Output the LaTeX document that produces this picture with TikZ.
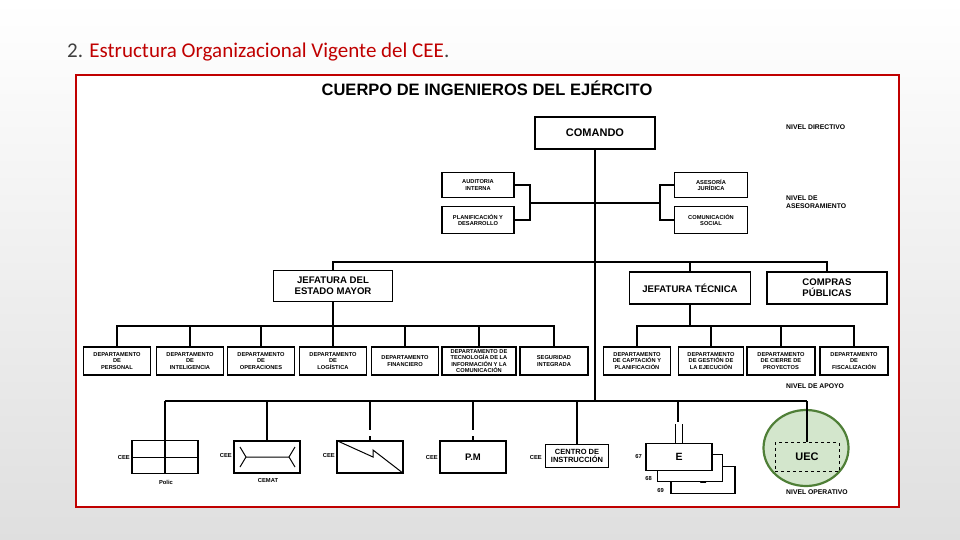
\documentclass[tikz,border=0pt]{standalone}
\usepackage{fontspec}
\usetikzlibrary{shapes.geometric}
\setmainfont{Liberation Sans}
\newfontfamily\titlefont{Carlito}
\definecolor{cred}{HTML}{C00000}
\definecolor{gfill}{HTML}{D3E6CC}
\definecolor{gline}{HTML}{4F7F37}
\begin{document}
\begin{tikzpicture}[x=1pt,y=-1pt,
  box/.style={draw,line width=1.1pt,fill=white,align=center,inner sep=0pt,font=\bfseries},
  dep/.style={box,minimum width=67pt,minimum height=28pt,font=\fontsize{5.7}{6.4}\selectfont\bfseries},
  ln/.style={line width=1.3pt},
  lbl/.style={font=\fontsize{6.8}{8}\selectfont\bfseries,anchor=west,align=left,inner sep=0pt},
  cee/.style={font=\fontsize{5.8}{6}\selectfont\bfseries,inner sep=0pt}]
\useasboundingbox (0,0) rectangle (960,540);
\shade[top color=white,bottom color=gray!25] (0,0) rectangle (960,540);
\node[anchor=west,inner sep=0pt,font=\titlefont\fontsize{21}{24}\selectfont] (title) at (67,52) {\textcolor{black!75}{2.} \textcolor{cred}{Estructura Organizacional Vigente del CEE}\textcolor{black!75}{.}};
\draw[cred,line width=2pt,fill=white] (76,75) rectangle (899,507);
\node[font=\fontsize{16.5}{18}\selectfont\bfseries,inner sep=0pt] (head) at (487,88) {CUERPO DE INGENIEROS DEL EJÉRCITO};
% top
\node[box,minimum width=120pt,minimum height=32pt,font=\fontsize{11}{12}\selectfont\bfseries] (cmd) at (595,133) {COMANDO};
\node[dep,minimum width=72pt,minimum height=25pt] (aud) at (478,185) {AUDITORIA\\INTERNA};
\node[dep,minimum width=72pt,minimum height=27pt] (pla) at (478,220) {PLANIFICACIÓN Y\\DESARROLLO};
\node[dep,minimum width=73pt,minimum height=25pt] (ase) at (711,185) {ASESORÍA\\JURÍDICA};
\node[dep,minimum width=73pt,minimum height=27pt] (com) at (711,220) {COMUNICACIÓN\\SOCIAL};
\coordinate (cb) at (595,401);
\draw[ln] (cmd.south) -- (cb);
\draw[ln] (aud.east) -| (530,203) |- (pla.east);
\draw[ln] (ase.west) -| (660,203) |- (com.west);
\draw[ln] (530,203) -- (660,203);
\node[lbl] (nd) at (786,127) {NIVEL DIRECTIVO};
\node[lbl] (na) at (786,202) {NIVEL DE\\ASESORAMIENTO};
% jefaturas
\node[box,minimum width=119pt,minimum height=31pt,font=\fontsize{9.6}{11}\selectfont\bfseries] (jem) at (333,286) {JEFATURA DEL\\ESTADO MAYOR};
\node[box,minimum width=121pt,minimum height=32pt,font=\fontsize{9.6}{11}\selectfont\bfseries] (jt) at (690,288) {JEFATURA TÉCNICA};
\node[box,minimum width=120pt,minimum height=32pt,font=\fontsize{9.6}{11}\selectfont\bfseries] (cp) at (827,288) {COMPRAS\\PÚBLICAS};
\draw[ln] (jem.north) -- (333,262) -- (827,262) -- (cp.north);
\draw[ln] (690,262) -- (jt.north);
% departments left
\node[dep] (d1) at (117,361) {DEPARTAMENTO\\DE\\PERSONAL};
\node[dep] (d2) at (190,361) {DEPARTAMENTO\\DE\\INTELIGENCIA};
\node[dep] (d3) at (261,361) {DEPARTAMENTO\\DE\\OPERACIONES};
\node[dep] (d4) at (333,361) {DEPARTAMENTO\\DE\\LOGÍSTICA};
\node[dep] (d5) at (405,361) {DEPARTAMENTO\\FINANCIERO};
\node[dep,minimum width=74pt] (d6) at (479,361) {DEPARTAMENTO DE\\TECNOLOGÍA DE LA\\INFORMACIÓN Y LA\\COMUNICACIÓN};
\node[dep,minimum width=68pt] (d7) at (554,361) {SEGURIDAD\\INTEGRADA};
\draw[ln] (jem.south) -- (333,326);
\draw[ln] (d1.north) -- (117,326) -- (554,326) -- (d7.north);
\foreach \n/\x in {d2/190,d3/261,d4/333,d5/405,d6/479} \draw[ln] (\n.north) -- (\x,326);
% departments right
\node[dep,minimum width=67pt] (r1) at (637,361) {DEPARTAMENTO\\DE CAPTACIÓN Y\\PLANIFICACIÓN};
\node[dep,minimum width=65pt] (r2) at (711,361) {DEPARTAMENTO\\DE GESTIÓN DE\\LA EJECUCIÓN};
\node[dep,minimum width=68pt] (r3) at (781,361) {DEPARTAMENTO\\DE CIERRE DE\\PROYECTOS};
\node[dep,minimum width=68pt] (r4) at (854,361) {DEPARTAMENTO\\DE\\FISCALIZACIÓN};
\draw[ln] (jt.south) -- (690,326);
\draw[ln] (r1.north) -- (637,326) -- (854,326) -- (r4.north);
\draw[ln] (r2.north) -- (711,326);
\draw[ln] (r3.north) -- (781,326);
\node[lbl] (nap) at (786,386) {NIVEL DE APOYO};
% operative level
\draw[ln] (165,401) -- (807,401);
% Polic
\node[box,minimum width=66pt,minimum height=33pt] (pol) at (165,457) {};
\draw[line width=1pt] (pol.west) -- (pol.east);
\draw[ln] (165,401) -- (pol.south);
\node[cee,anchor=east] (c1) at (130,457) {CEE};
\node[cee] (polt) at (166,482) {Polic};
% CEMAT
\node[box,minimum width=66pt,minimum height=32pt] (cem) at (267,457) {};
\draw[ln] (267,401) -- (cem.north);
\draw[line width=1pt] (246,457) -- (289,457) (240,447) -- (246,457) -- (240,467) (295,447) -- (289,457) -- (295,467);
\node[cee,anchor=east] (c2) at (232,455) {CEE};
\node[cee] (cemt) at (268,480) {CEMAT};
% zigzag box
\node[box,minimum width=66pt,minimum height=32pt] (zz) at (370,457) {};
\draw[ln] (370,401) -- (370,430) (370,436) -- (zz.north);
\draw[line width=1pt] (zz.north west) -- (373,457) -- (373,450) -- (zz.south east);
\node[cee,anchor=east] (c3) at (335,455) {CEE};
% P.M
\node[box,minimum width=66pt,minimum height=32pt,font=\fontsize{9.5}{10}\selectfont\bfseries] (pm) at (473,457) {P.M};
\draw[ln] (473,401) -- (473,430) (473,436) -- (pm.north);
\node[cee,anchor=east] (c4) at (438,457) {CEE};
% Centro
\node[box,minimum width=63pt,minimum height=23pt,font=\fontsize{7.5}{8}\selectfont\bfseries] (ci) at (577,456) {CENTRO DE\\INSTRUCCIÓN};
\draw[ln] (577,401) -- (ci.north);
\node[cee,anchor=east] (c5) at (542,457) {CEE};
% E stack
\node[box,minimum width=64pt,minimum height=27pt,font=\fontsize{10.5}{11}\selectfont\bfseries] (e3) at (703,480) {E};
\node[box,minimum width=65pt,minimum height=27pt,font=\fontsize{10.5}{11}\selectfont\bfseries] (e2) at (690,468) {E};
\node[box,minimum width=66pt,minimum height=27pt,font=\fontsize{10.5}{11}\selectfont\bfseries] (e1) at (679,457) {E};
\draw[ln] (678,401) -- (678,422);
\draw[line width=1pt] (675,424) -- (675,443) (682,424) -- (682,443);
\node[cee,anchor=east] (n67) at (642,456) {67};
\node[cee,anchor=east] (n68) at (652,478) {68};
\node[cee,anchor=east] (n69) at (664,490) {69};
% UEC
\node[ellipse,draw=gline,fill=gfill,line width=2.2pt,minimum width=85pt,minimum height=76pt,inner sep=0pt] (uecc) at (806,448) {};
\node[draw,dashed,line width=1pt,minimum width=64pt,minimum height=29pt,font=\fontsize{11}{12}\selectfont\bfseries,inner sep=0pt] (uec) at (807,457) {UEC};
\draw[ln] (807,401) -- (uec.north);
\node[lbl] (nop) at (786,492) {NIVEL OPERATIVO};
\end{tikzpicture}
\end{document}
